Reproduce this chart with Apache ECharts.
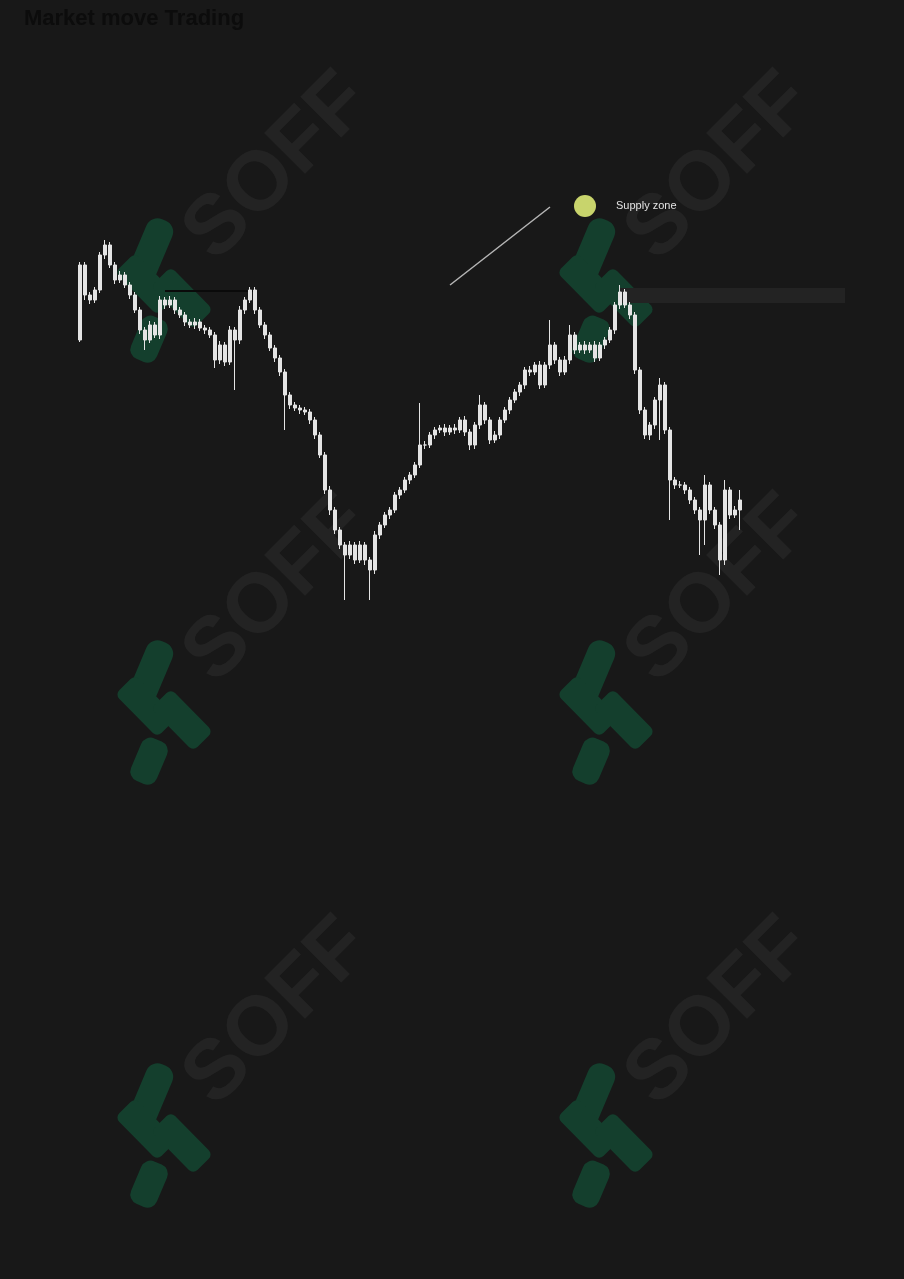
<!DOCTYPE html>
<html><head><meta charset="utf-8">
<script src="https://cdn.jsdelivr.net/npm/echarts@6/dist/echarts.min.js"></script>
<style>html,body{margin:0;padding:0;background:#181818;}#c{width:904px;height:1279px;}</style>
</head><body><div id="c"></div>
<script>
const titleText = 'Market move Trading';
const zoneLabel = 'Supply zone';

const openV = [1280,1355,1325,1320,1330,1365,1375,1355,1340,1345,1335,1325,1310,1290,1280,1295,1285,1320,1315,1320,
1310,1305,1298,1295,1298,1292,1290,1285,1260,1275,1258,1290,1280,1310,1320,1330,1310,1295,1285,1272,
1262,1248,1225,1215,1212,1210,1208,1200,1185,1165,1130,1110,1090,1075,1065,1075,1060,1075,1060,1050,
1085,1095,1105,1110,1125,1130,1140,1145,1155,1175,1175,1185,1190,1192,1188,1192,1190,1200,1188,1175,
1195,1215,1200,1180,1185,1200,1210,1220,1228,1235,1250,1248,1255,1235,1255,1275,1260,1248,1260,1285,
1270,1275,1270,1275,1262,1275,1280,1290,1315,1328,1315,1305,1250,1210,1185,1195,1220,1235,1190,1140,
1135,1135,1130,1120,1110,1100,1135,1110,1095,1060,1130,1105,1110];
const closeV = [1355,1325,1320,1330,1365,1375,1355,1340,1345,1335,1325,1310,1290,1280,1295,1285,1320,1315,1320,1310,
1305,1298,1295,1298,1292,1290,1285,1260,1275,1258,1290,1280,1310,1320,1330,1310,1295,1285,1272,1262,
1248,1225,1215,1212,1210,1208,1200,1185,1165,1130,1110,1090,1075,1065,1075,1060,1075,1060,1050,1085,
1095,1105,1110,1125,1130,1140,1145,1155,1175,1175,1185,1190,1192,1188,1192,1190,1200,1188,1175,1195,
1215,1200,1180,1185,1200,1210,1220,1228,1235,1250,1248,1255,1235,1255,1275,1260,1248,1260,1285,1270,
1275,1270,1275,1262,1275,1280,1290,1315,1328,1315,1305,1250,1210,1185,1195,1220,1235,1190,1140,1135,
1135,1130,1120,1110,1100,1135,1110,1095,1060,1130,1105,1110,1120];
const lowV = [1278,1320,1316,1317,1327,1361,1352,1336,1337,1332,1321,1307,1286,1270,1277,1282,1281,1311,1312,1306,
1302,1294,1292,1291,1289,1286,1282,1252,1256,1254,1255,1230,1276,1306,1317,1306,1292,1281,1269,1258,
1244,1190,1211,1209,1206,1205,1196,1181,1162,1126,1105,1086,1071,1020,1061,1056,1057,1055,1020,1046,
1081,1092,1101,1107,1121,1127,1136,1142,1152,1171,1172,1181,1187,1184,1185,1186,1187,1184,1170,1171,
1191,1196,1176,1177,1181,1197,1206,1217,1224,1231,1244,1245,1231,1232,1251,1256,1244,1245,1256,1266,
1267,1266,1267,1258,1259,1271,1277,1286,1311,1312,1301,1246,1206,1181,1180,1191,1180,1186,1100,1131,
1132,1126,1116,1106,1065,1075,1106,1091,1045,1055,1101,1102,1090];
const highV = [1358,1358,1328,1333,1368,1380,1378,1358,1349,1348,1338,1328,1313,1293,1299,1298,1324,1323,1324,1323,
1313,1308,1301,1302,1301,1295,1293,1288,1279,1278,1294,1293,1314,1323,1333,1333,1313,1298,1288,1275,
1265,1251,1228,1218,1215,1213,1211,1203,1188,1168,1134,1113,1093,1078,1079,1078,1079,1078,1063,1089,
1098,1108,1113,1128,1133,1143,1148,1158,1217,1179,1188,1193,1195,1196,1195,1196,1203,1204,1191,1198,
1225,1218,1203,1189,1203,1213,1223,1231,1238,1253,1254,1258,1259,1258,1300,1278,1263,1264,1295,1288,
1278,1279,1278,1279,1278,1283,1293,1318,1335,1331,1318,1308,1253,1213,1198,1223,1242,1238,1193,1143,
1139,1138,1133,1123,1113,1145,1138,1113,1098,1140,1133,1114,1130];

const totalSlots = 154;
const categories = [];
for (let i = 0; i < totalSlots; i++) categories.push('T' + (i + 1));

const zoneStart = 108, zoneEnd = 153, zoneTop = 1332, zoneBottom = 1317;
const levelLine = {from: 17, to: 35, value: 1329};
const arrowLine = {from: [74, 1335], to: [94, 1413]};
const markerPoint = [101, 1414];

const candleData = openV.map((o, i) => [o, closeV[i], lowV[i], highV[i]]);

const bg = '#181818';
const wmText = 'rgba(255,255,255,0.05)';
const wmLogo = '#143f2d';

function logo(cx, cy) {
  const st = {fill: wmLogo};
  return {
    type: 'group', x: cx, y: cy, z: 0, children: [
      {type: 'rect', x: 2, y: -70, rotation: -0.4, z: 0, shape: {x: -14, y: 0, width: 28, height: 74, r: 12}, style: st},
      {type: 'rect', x: -16, y: -6, rotation: 0.78, z: 0, shape: {x: -14, y: -30, width: 28, height: 60, r: 6}, style: st},
      {type: 'rect', x: 20, y: 8, rotation: 0.78, z: 0, shape: {x: -14, y: -30, width: 28, height: 60, r: 6}, style: st},
      {type: 'rect', x: -4, y: 28, rotation: -0.4, z: 0, shape: {x: -14, y: 0, width: 28, height: 46, r: 10}, style: st}
    ]
  };
}
function soff(cx, cy) {
  return {type: 'text', x: cx, y: cy, rotation: Math.PI / 4, z: 0,
    style: {text: 'SOFF', fontSize: 84, fontWeight: 900, fontFamily: 'Liberation Sans, Arial, sans-serif',
      fill: wmText, align: 'center', verticalAlign: 'middle'}};
}
const wm = [];
[[0, 0], [442, 0], [0, 422], [442, 422], [0, 845], [442, 845]].forEach(([dx, dy]) => {
  wm.push(soff(278 + dx, 168 + dy));
  wm.push(logo(162 + dx, 290 + dy));
});

const chart = echarts.init(document.getElementById('c'), null, {renderer: 'canvas'});
chart.setOption({
  backgroundColor: bg,
  animation: false,
  title: {text: titleText, left: 24, top: 8, padding: 0,
    textStyle: {color: '#0c0c0c', fontSize: 22, fontWeight: 'bold', fontFamily: 'Liberation Sans, Arial, sans-serif'}},
  grid: {left: 77.5, width: 770, top: 180, height: 440},
  xAxis: {type: 'category', data: categories, show: false, boundaryGap: true},
  yAxis: {type: 'value', min: 1000, max: 1440, show: false, splitLine: {show: false}},
  graphic: {elements: wm.map(e => Object.assign(e, {silent: true}))},
  series: [
    {
      type: 'candlestick', data: candleData, barWidth: 3, z: 5,
      itemStyle: {color: '#e4e4e4', color0: '#e4e4e4', borderColor: '#e4e4e4', borderColor0: '#e4e4e4', borderWidth: 1},
      markArea: {silent: true, itemStyle: {color: '#232323', borderColor: '#121212', borderWidth: 0},
        data: [[{coord: [zoneStart, zoneTop]}, {coord: [zoneEnd, zoneBottom]}]]},
      markLine: {silent: true, symbol: ['none', 'none'], label: {show: false},
        data: [
          [{coord: [levelLine.from, levelLine.value], lineStyle: {color: '#0a0a0a', width: 2, type: 'solid'}},
           {coord: [levelLine.to, levelLine.value]}],
          [{coord: arrowLine.from, lineStyle: {color: '#b5b5b5', width: 1.5, type: 'solid'}},
           {coord: arrowLine.to}]
        ]}
    },
    {
      type: 'scatter', data: [markerPoint], symbolSize: 22, z: 6,
      itemStyle: {color: '#c8d46c', opacity: 1},
      label: {show: true, position: 'right', distance: 20, formatter: zoneLabel, color: '#e2e2e2', fontSize: 11,
        fontFamily: 'Liberation Sans, Arial, sans-serif'}
    }
  ]
});
</script></body></html>
